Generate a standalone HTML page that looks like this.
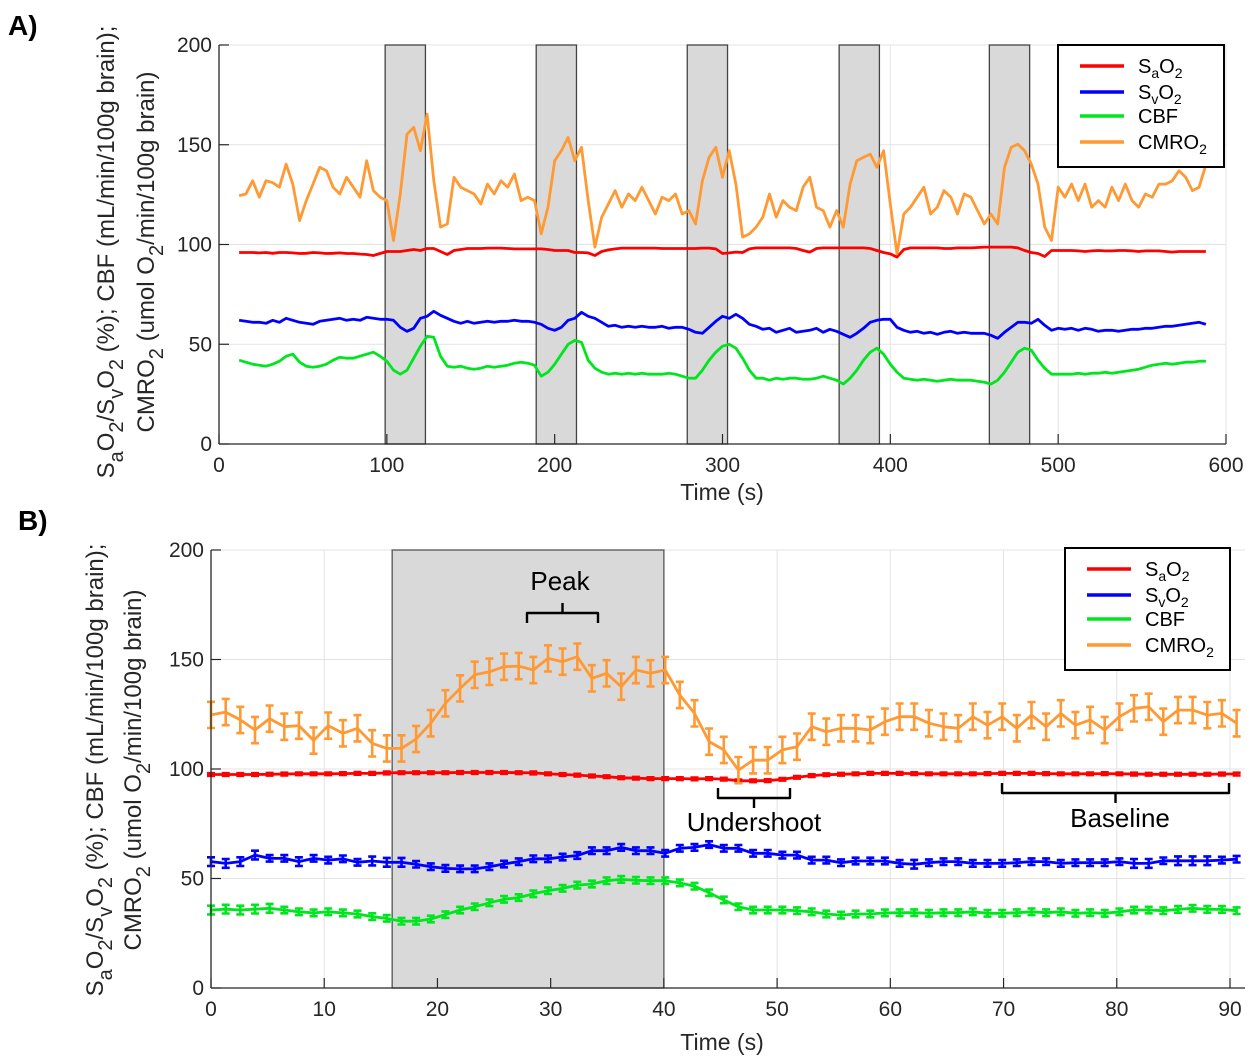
<!DOCTYPE html>
<html><head><meta charset="utf-8"><style>
html,body{margin:0;padding:0;background:#fff;}
svg{display:block;font-family:"Liberation Sans",Arial,sans-serif;}
</style></head><body>
<svg id="fig" width="1259" height="1061" viewBox="0 0 1259 1061" xmlns="http://www.w3.org/2000/svg">
<g id="pa"></g>
<g id="pb"></g>
</svg>
<script>
// ---------- Panel A data (time series, t from 12 to 588 s) ----------
const aStimStarts = [99, 189, 279, 369.5, 459];
const aStimDur = 24;
const aXTicks = [0, 100, 200, 300, 400, 500, 600];
const aYTicks = [0, 50, 100, 150, 200];
const aSaO2 = [96,96,96,95.8,96,95.6,96,96,95.8,95.5,95.6,96,95.8,95.5,95.6,95.8,95.5,95.5,95.2,95,94.5,95.5,96.5,96.5,96.5,97,97.5,97,98,98,96.5,95,97,97.5,98,98,98,98.2,98.2,98.2,98,97.8,97.8,97.8,97.8,97.8,97.5,97,97,97,96,96,95.8,94.5,96.5,97.3,97.8,98.2,98.2,98.2,98.2,98.2,98.2,98,98,98,98,98,98,98.2,98.2,97.8,95.5,95.8,96.2,96,97.8,98.3,98.3,98.3,98.3,98.3,98.3,98,97,96.2,98,98.3,98.3,98.3,98.3,98.3,98.3,98.3,98,97,96,95.3,93.7,97.5,98.3,98.3,98.3,98.3,98.3,98,98,98.3,98.3,98.3,98.5,98.7,98.7,98.7,98.7,98.7,98.3,97,96,95.5,94,97,97,97,97,96.8,96.5,96.8,97,96.8,96.8,97,97,96.8,96.5,96.8,96.8,96.8,96.5,96.2,96.5,96.5,96.5,96.5,96.5];
const aSvO2 = [62,61.5,61,61,60.5,62,61,63,62,61,60.5,60,61.5,62,62.5,63,62,62.5,62,63.5,63,62.5,62.5,62,58.5,56.5,58,63,64,66.5,64.5,63,61.5,60.5,61.5,60.5,61,61.5,61,61.5,61.5,62,61.5,61.5,61,60,58,57,58.5,62,63,66,64,63,61,59,59.5,58.5,59,58.5,59,58.5,58.5,59,58,58.5,58.5,57.5,56,55.5,58.5,61.5,64,63,65,63,60,59,57.5,58,56,57,58,56,56.5,57,58,56,57.5,56.5,55,53.5,55.5,58,61,62,62.5,62.5,58.5,57,56,56.5,55.5,56,55,56,56.5,55.5,56,55.5,55.5,55.5,54.5,53,56,58.5,61,61,60.5,62.5,59.5,57,58,57.5,58,57,58,57.5,56.5,57,57,56.5,57,57.5,57.5,58,58,58.5,59,59,59.5,60,60.5,61,60];
const aCBF = [42,41,40,39.5,39,40,41.5,44,45,41,39,38.5,39,40,42,43.5,43,43,44,45,46,44,41.5,37,35,37,43,49,54,53.5,44,39,38.5,39,38,37.5,38,39,38.5,39,39.5,40.5,41,40.5,39.5,34,36,40,45,50,52,51,42,38,36,35,35.5,35,35.5,35,35.5,35,35,35,35.5,35,34,33,33,37,42,46,49,50,48,43,37,33,33,32,33,32.5,33,33,32.5,32.5,33,34,33,32,30,33,37,42,46,48,45,40,36,33,32.5,32,32.5,32,31.5,32,32.5,32,32,32,31.5,31,30,32,36,41,46,48,47,42,38,35,35,35,35,35.5,35,35.5,35.5,36,35.5,36,36.5,37,37.5,38.5,39.5,40,40.5,40,40.5,41,41,41.5,41.5];
const aCMRO2 = [124.5,125.3,132,123.7,132,131,128.7,140.3,130.3,112,122,130.3,138.7,137,128.7,125.3,133.7,128.7,123.7,142,127,123.7,122,102,125.3,155.3,158.7,147,165.3,132,108.7,110.3,133.7,128.7,127,125.3,120.3,130.3,125.3,132,128.7,135.3,122,123.7,122,105.3,118.7,142,147,153.7,142,148.7,122,98.7,113.7,120.3,127,118.7,125.3,122,128.7,122,115.3,123.7,122,125.3,115.3,117,110.3,132,143.7,148.7,133.7,147,130.3,103.7,105.3,108.7,113.7,125.3,113.7,122,118.7,117,128.7,133.7,118.7,117,108.7,117,108.7,130.3,142,143.7,145.3,138.7,147,120.3,95.3,115.3,118.7,123.7,128.7,115.3,118.7,127,123.7,115.3,125.3,123.7,117,110.3,115.3,110.3,138.7,148.7,150.3,147,140.3,130.3,108.7,102,128.7,123.7,130.3,122,130.3,118.7,122,118.7,128.7,122,130.3,122,118.7,125.3,123.7,130.3,130.3,132,137,133.7,127,128.7,140];

// ---------- Panel B data (block average, 71 samples over 0..90.6 s) ----------
const bXTicks = [0,10,20,30,40,50,60,70,80,90];
const bYTicks = [0,50,100,150,200];
const bStim = [16, 40];
const bSaO2 = [97.5,97.5,97.5,97.5,97.6,97.7,97.8,97.8,97.8,97.9,98,98,98.2,98.3,98.3,98.3,98.3,98.4,98.4,98.4,98.4,98.3,98.2,97.8,97.5,97.2,96.8,96.5,96,95.8,95.6,95.6,95.6,95.5,95.6,95.4,94.6,94.6,94.7,95.3,96.2,97,97.4,97.6,97.8,98,98,98,97.9,97.8,97.8,97.8,97.8,97.9,98,98,98,97.9,97.8,97.8,97.8,97.9,97.8,97.7,97.6,97.6,97.6,97.6,97.6,97.7,97.7];
const bSaO2Err = [0.6,0.6,0.6,0.6,0.6,0.6,0.6,0.6,0.6,0.6,0.6,0.6,0.6,0.6,0.6,0.6,0.6,0.6,0.6,0.6,0.6,0.6,0.6,0.6,0.6,0.6,0.6,0.6,0.6,0.6,0.6,0.6,0.6,0.6,0.6,0.6,0.6,0.6,0.6,0.6,0.6,0.6,0.6,0.6,0.6,0.6,0.6,0.6,0.6,0.6,0.6,0.6,0.6,0.6,0.6,0.6,0.6,0.6,0.6,0.6,0.6,0.6,0.6,0.6,0.6,0.6,0.6,0.6,0.6,0.6,0.6];
const bSvO2 = [57.7,56.9,57.7,60.7,59.2,59.2,57.7,59.2,58.4,59,57.4,58,57.4,57.4,56.5,55.4,54.6,54.4,54.4,55.4,56.6,57.7,59,59,59.8,60.5,62.7,62.7,64.2,62.7,62.7,61.5,63.8,64.2,65.5,63.8,63.8,61.5,61.5,60.7,60.7,58.4,58.4,57.2,58,58,58,56.9,56.5,57.2,57.7,57.7,56.9,56.9,56.9,57.2,57.7,57.7,56.9,57.2,57.2,57.2,57.7,56.9,56.9,58.1,58.1,58.1,58.1,58.4,58.8];
const bSvO2Err = [2,2,2,2,1.5,1.5,2,1.5,1.5,1.5,1.5,2,2,2,1.5,1.5,1.5,1.5,1.5,1.5,1.5,1.5,1.5,1.5,1.5,1.5,1.5,1.5,1.5,1.5,1.5,1.5,1.5,1.5,1.5,1.5,1.5,1.5,1.5,1.5,1.5,1.5,1.5,1.5,1.5,1.5,1.5,1.5,2,1.5,1.5,1.5,1.5,1.5,1.5,1.5,1.5,1.5,1.5,1.5,1.5,1.5,1.5,2,2,1.5,2,2,2,1.5,1.5];
const bCBF = [35.6,36,35.6,36,36.4,35.6,34.8,34.3,34.8,34.3,33.8,32.6,31.8,30.5,30.5,31.5,33.5,35.6,37.1,38.9,40.5,41.3,43,44.4,45.5,47,47.5,49,49.6,49.2,49,49,48,46.5,43.5,40.2,37.1,35.6,35.6,35.6,35.3,34.8,33.8,33.3,33.8,33.8,34.3,34.4,34.4,34.1,34.4,34.4,34.8,34.1,34.1,34.4,34.8,34.4,34.8,34.1,34.4,34.1,34.8,35.6,35.6,35.3,35.9,36.4,35.9,35.9,35.3];
const bCBFErr = [2,2,2,2,2,1.5,1.5,1.5,1.5,1.5,1.5,1.5,1.5,1.5,1.5,1.5,1.5,1.5,1.5,1.5,1.5,1.5,1.5,1.5,1.5,1.5,1.5,1.5,1.5,1.5,1.5,1.5,1.5,1.5,1.5,1.5,1.5,1.5,1.5,1.5,1.5,1.5,1.5,1.5,1.5,1.5,1.5,1.5,1.5,1.5,1.5,1.5,1.5,1.5,1.5,1.5,1.5,1.5,1.5,1.5,1.5,1.5,1.5,1.5,1.5,1.5,1.5,1.5,1.5,1.5,1.5];
const bCMRO2 = [124.7,126,122.4,117.8,123,119.3,119.8,113,119.8,116.3,118.6,111.7,109.4,109.4,113.7,120.9,130,136.8,143,144.4,146.7,147,145.2,150.5,149,151.3,141.4,143.7,137.6,145.2,143.7,145.2,133.8,125.4,112.5,108.7,99.5,104,104,108.7,110.2,119.3,117,118.6,118.6,117.8,121.6,123.9,123.9,120.9,119.3,118.6,123.9,120,123.9,118.6,124.6,119.3,125.4,120,122.4,117.8,123.9,127.7,128.4,121.6,126.9,126.9,124.6,125.4,120.9];
const bCMRO2Err = [6,6,6,6,6,6,6,6,6,6,6,6,6,6,6,6,6,6,6,6,6,6,6,6,6,6,6,6,6,6,6,6,6,6,6,6,6,6,6,6,6,6,6,6,6,6,6,6,6,6,6,6,6,6,6,6,6,6,6,6,6,6,6,6,6,6,6,6,6,6,6];
const bDt = 1.294;

const NS = "http://www.w3.org/2000/svg";
const COL = {sa:"#ff0000", sv:"#0000ff", cbf:"#00e61e", cm:"#ff9933"};
function mk(tag, attrs, parent){
  const e = document.createElementNS(NS, tag);
  for (const k in attrs) e.setAttribute(k, attrs[k]);
  parent.appendChild(e);
  return e;
}

function drawAxes(g, L, T, R, B, xs, ys, xTicks, yTicks){
  const bg = mk("rect",{x:L,y:T,width:R-L,height:B-T,fill:"#fff"},g);
  
  
  const grid = mk("g",{},g);
  
  
  xTicks.forEach(v=>{ mk("line",{x1:xs(v),x2:xs(v),y1:T,y2:B,stroke:"#e3e3e3","stroke-width":1},grid); });
  yTicks.forEach(v=>{ mk("line",{x1:L,x2:R,y1:ys(v),y2:ys(v),stroke:"#e3e3e3","stroke-width":1},grid); });
}
function drawFrame(g, L, T, R, B, xs, ys, xTicks, yTicks, xlabY){
  mk("line",{x1:L,x2:L,y1:T,y2:B,stroke:"#262626","stroke-width":1.3},g);
  mk("line",{x1:L,x2:R,y1:B,y2:B,stroke:"#262626","stroke-width":1.3},g);
  const yl = mk("g",{},g);
  
  
  yTicks.forEach(v=>{
    mk("line",{x1:L,x2:L+10,y1:ys(v),y2:ys(v),stroke:"#262626","stroke-width":1.2},g);
    const t = mk("text",{x:L-7,y:ys(v)+7,"text-anchor":"end","font-size":21,fill:"#262626"},yl);
    t.textContent = v;
  });
  const xl = mk("g",{},g);
  
  
  xTicks.forEach(v=>{
    mk("line",{x1:xs(v),x2:xs(v),y1:B,y2:B-10,stroke:"#262626","stroke-width":1.2},g);
    const t = mk("text",{x:xs(v),y:xlabY,"text-anchor":"middle","font-size":21,fill:"#262626"},xl);
    t.textContent = v;
  });
}
function linePath(ts, vals, xs, ys){
  return vals.map((v,i)=>(i?"L":"M")+xs(ts[i]).toFixed(1)+","+ys(v).toFixed(1)).join("");
}
function legend(g, x, y, w, h, rowY){
  const lg = mk("g",{},g);
  
  
  mk("rect",{x:x,y:y,width:w,height:h,fill:"#fff",stroke:"#000","stroke-width":2},lg);
  const items = [["sa","S","a","O","2"],["sv","S","v","O","2"],["cbf","CBF"],["cm","CMRO","2"]];
  items.forEach((it,i)=>{
    const ry = y+rowY[i];
    const e = mk("g",{},lg);
    
    
    mk("line",{x1:x+22,x2:x+66,y1:ry,y2:ry,stroke:COL[it[0]],"stroke-width":3.5},e);
    const t = mk("text",{x:x+80,y:ry+7,"font-size":20,fill:"#000"},e);
    if (it.length===5){
      t.innerHTML = 'S<tspan font-size="14" dy="5">'+it[2]+'</tspan><tspan dy="-5">O</tspan><tspan font-size="14" dy="5">2</tspan>';
    } else if (it.length===3){
      t.innerHTML = 'CMRO<tspan font-size="14" dy="5">2</tspan>';
    } else t.textContent = it[1];
  });
}
function yLabel(g, x1, x2, cy){
  const a = mk("text",{transform:"translate("+x1+","+cy+") rotate(-90)","text-anchor":"middle","font-size":24,fill:"#262626"},g);
  
  
  a.innerHTML = 'S<tspan font-size="20" dy="9">a</tspan><tspan dy="-9">O</tspan><tspan font-size="20" dy="9">2</tspan><tspan dy="-9">/S</tspan><tspan font-size="20" dy="9">v</tspan><tspan dy="-9">O</tspan><tspan font-size="20" dy="9">2</tspan><tspan dy="-9"> (%); CBF (mL/min/100g brain);</tspan>';
  const b = mk("text",{transform:"translate("+x2+","+cy+") rotate(-90)","text-anchor":"middle","font-size":24,fill:"#262626"},g);
  
  
  b.innerHTML = 'CMRO<tspan font-size="20" dy="9">2</tspan><tspan dy="-9"> (umol O</tspan><tspan font-size="20" dy="9">2</tspan><tspan dy="-9">/min/100g brain)</tspan>';
}

// ================= Panel A =================
(function(){
  const g = document.getElementById("pa");
  const L=219,T=45,R=1226,B=444;
  const xs = v => L + (v-0)/600*(R-L);
  const ys = v => B - v/200*(B-T);
  drawAxes(g,L,T,R,B,xs,ys,aXTicks,aYTicks);
  aStimStarts.forEach((s,i)=>{
    const r = mk("rect",{x:xs(s),y:T,width:xs(s+aStimDur)-xs(s),height:B-T,fill:"#d9d9d9",stroke:"#444","stroke-width":1.3},g);
    
    
  });
  const series = [["cbf",aCBF],["sv",aSvO2],["sa",aSaO2],["cm",aCMRO2]];
  series.forEach(([k,vals])=>{
    const ts = vals.map((v,i)=>12 + i*576/(vals.length-1));
    const p = mk("path",{d:linePath(ts,vals,xs,ys),fill:"none",stroke:COL[k],"stroke-width":2.8,"stroke-linejoin":"round"},g);
    
    
  });
  drawFrame(g,L,T,R,B,xs,ys,aXTicks,aYTicks,472);
  const xt = mk("text",{x:722,y:500,"text-anchor":"middle","font-size":23,fill:"#262626"},g);
  
  
  xt.textContent = "Time (s)";
  yLabel(g,114,154,252);
  legend(g,1058,45,166,122,[21,47,71,97]);
  const lab = mk("text",{x:8,y:35,"font-size":28,"font-weight":"bold",fill:"#000"},g);
  
  
  lab.textContent = "A)";
})();

// ================= Panel B =================
(function(){
  const g = document.getElementById("pb");
  const L=211,T=550,R=1245,B=988;
  const XMAX = 90*(R-L)/(1230-L);
  const xs = v => L + v/XMAX*(R-L);
  const ys = v => B - v/200*(B-T);
  drawAxes(g,L,T,R,B,xs,ys,bXTicks,bYTicks);
  const r = mk("rect",{x:xs(bStim[0]),y:T,width:xs(bStim[1])-xs(bStim[0]),height:B-T,fill:"#d9d9d9",stroke:"#555","stroke-width":1.3},g);
  
  
  const series = [["cbf",bCBF,bCBFErr,4],["sv",bSvO2,bSvO2Err,4],["sa",bSaO2,bSaO2Err,4],["cm",bCMRO2,bCMRO2Err,4]];
  series.forEach(([k,vals,errs,cap])=>{
    const ts = vals.map((v,i)=>i*bDt);
    const sg = mk("g",{},g);
    
    
    mk("path",{d:linePath(ts,vals,xs,ys),fill:"none",stroke:COL[k],"stroke-width":2.8,"stroke-linejoin":"round"},sg);
    let d="";
    vals.forEach((v,i)=>{
      const x=xs(ts[i]), y1=ys(v-errs[i]), y2=ys(v+errs[i]);
      d += "M"+x.toFixed(1)+","+y1.toFixed(1)+"V"+y2.toFixed(1);
      d += "M"+(x-cap).toFixed(1)+","+y1.toFixed(1)+"h"+(2*cap);
      d += "M"+(x-cap).toFixed(1)+","+y2.toFixed(1)+"h"+(2*cap);
    });
    const eb = mk("path",{d:d,fill:"none",stroke:COL[k],"stroke-width":2.6},sg);
    
    
  });
  drawFrame(g,L,T,R,B,xs,ys,bXTicks,bYTicks,1016);
  const xt = mk("text",{x:722,y:1050,"text-anchor":"middle","font-size":23,fill:"#262626"},g);
  
  
  xt.textContent = "Time (s)";
  yLabel(g,103,141,770);
  legend(g,1065,548,165,122,[21,47,71,97]);
  function brace(x1,x2,y,dir,name){
    const h=10*dir, mid=(x1+x2)/2;
    const p = mk("path",{d:"M"+x1+","+(y+h)+"L"+x1+","+y+"L"+x2+","+y+"L"+x2+","+(y+h)+"M"+mid+","+y+"L"+mid+","+(y-h),fill:"none",stroke:"#000","stroke-width":2.4,"stroke-linejoin":"round"},g);
    
    
  }
  function ann(x,y,txt,name){
    const t = mk("text",{x:x,y:y,"text-anchor":"middle","font-size":26,fill:"#000"},g);
    
    
    t.textContent = txt;
  }
  brace(527,598,613,1,'peak-brace');
  ann(560,590,"Peak",'peak-label');
  brace(718,790,798,-1,'undershoot-brace');
  ann(754,831,"Undershoot",'undershoot-label');
  brace(1002,1229,793,-1,'baseline-brace');
  ann(1120,827,"Baseline",'baseline-label');
  const lab = mk("text",{x:18,y:530,"font-size":28,"font-weight":"bold",fill:"#000"},g);
  
  
  lab.textContent = "B)";
})();
</script>
</body></html>
